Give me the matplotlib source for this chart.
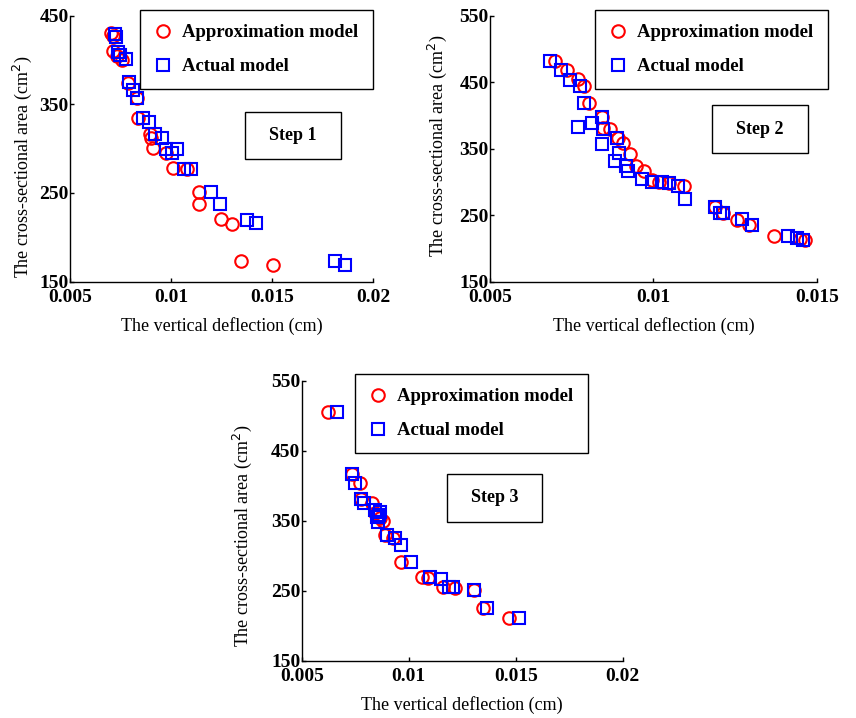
import numpy as np
import matplotlib
matplotlib.use('Agg')
import matplotlib.pyplot as plt
from matplotlib.patches import Rectangle

plt.rcParams['font.family'] = ['Liberation Serif', 'DejaVu Serif']

# Step 1
s1_approx_x = [0.00701, 0.00712, 0.00714, 0.00731, 0.00755, 0.00785, 0.00830, 0.00835, 0.00896, 0.00900,
               0.00909, 0.00975, 0.01011, 0.01077, 0.01138, 0.01140, 0.01247, 0.01303, 0.01344, 0.01506]
s1_approx_y = [430, 427, 410, 404, 400, 374, 357, 335, 317, 312,
               301, 295, 278, 277, 251, 238, 221, 215, 173, 169]
s1_actual_x = [0.00723, 0.00726, 0.00739, 0.00747, 0.00775, 0.00792, 0.00810, 0.00830, 0.00863, 0.00891,
               0.00920, 0.00957, 0.00975, 0.01003, 0.01028, 0.01065, 0.01098, 0.01200, 0.01242, 0.01374,
               0.01420, 0.01814, 0.01863]
s1_actual_y = [429, 426, 409, 406, 401, 375, 366, 357, 335, 330,
               316, 312, 300, 295, 300, 277, 277, 251, 238, 220,
               216, 173, 169]

# Step 2
s2_approx_x = [0.00699, 0.00737, 0.00769, 0.00788, 0.00804, 0.00844, 0.00847, 0.00867, 0.00893, 0.00906,
               0.00929, 0.00947, 0.00970, 0.00995, 0.01018, 0.01049, 0.01094, 0.01189, 0.01214, 0.01256,
               0.01291, 0.01370, 0.01449, 0.01464]
s2_approx_y = [482, 468, 455, 444, 418, 398, 381, 380, 366, 358,
               342, 324, 317, 303, 300, 299, 294, 263, 253, 243,
               235, 219, 214, 212]
s2_actual_x = [0.00684, 0.00717, 0.00745, 0.00776, 0.00788, 0.00768, 0.00811, 0.00842, 0.00845, 0.00842,
               0.00888, 0.00896, 0.00883, 0.00915, 0.00923, 0.00964, 0.00995, 0.01026, 0.01049, 0.01076,
               0.01097, 0.01189, 0.01202, 0.01212, 0.01270, 0.01301, 0.01410, 0.01439, 0.01457]
s2_actual_y = [482, 468, 453, 444, 418, 383, 388, 398, 379, 357,
               366, 343, 331, 324, 317, 304, 300, 300, 299, 294,
               274, 263, 254, 253, 244, 235, 218, 215, 212]

# Step 3
s3_approx_x = [0.00621, 0.00736, 0.00772, 0.00777, 0.00827, 0.00842, 0.00865, 0.00881, 0.00889, 0.00927,
               0.00962, 0.01060, 0.01088, 0.01161, 0.01215, 0.01304, 0.01347, 0.01467]
s3_approx_y = [506, 417, 404, 382, 376, 361, 354, 350, 330, 325,
               291, 270, 268, 255, 254, 251, 225, 211]
s3_actual_x = [0.00663, 0.00733, 0.00749, 0.00777, 0.00791, 0.00842, 0.00850, 0.00857, 0.00865, 0.00860,
               0.00900, 0.00935, 0.00962, 0.01010, 0.01098, 0.01153, 0.01187, 0.01207, 0.01304, 0.01366,
               0.01515]
s3_actual_y = [506, 417, 404, 382, 376, 366, 356, 349, 363, 358,
               330, 325, 316, 291, 270, 267, 255, 255, 251, 225,
               211]

panels = [
    dict(rect=[0.0818, 0.6077, 0.354, 0.3705], xlim=(0.005, 0.02), ylim=(150, 450),
         xt=[0.005, 0.01, 0.015, 0.02], xtl=['0.005', '0.01', '0.015', '0.02'],
         yt=[150, 250, 350, 450], data=(s1_approx_x, s1_approx_y, s1_actual_x, s1_actual_y),
         leg=(140, 10), step='Step 1', sbox=(245, 112, 96, 47), ylc=(-0.118, 0.43)),
    dict(rect=[0.5724, 0.6077, 0.382, 0.3705], xlim=(0.005, 0.015), ylim=(150, 550),
         xt=[0.005, 0.01, 0.015], xtl=['0.005', '0.01', '0.015'],
         yt=[150, 250, 350, 450, 550], data=(s2_approx_x, s2_approx_y, s2_actual_x, s2_actual_y),
         leg=(595, 10), step='Step 2', sbox=(712, 105, 96, 48), ylc=(-0.126, 0.51)),
    dict(rect=[0.3525, 0.0794, 0.375, 0.39], xlim=(0.005, 0.02), ylim=(150, 550),
         xt=[0.005, 0.01, 0.015, 0.02], xtl=['0.005', '0.01', '0.015', '0.02'],
         yt=[150, 250, 350, 450, 550], data=(s3_approx_x, s3_approx_y, s3_actual_x, s3_actual_y),
         leg=(355, 374), step='Step 3', sbox=(447, 474, 95, 48), ylc=(-0.148, 0.446)),
]

W, H = 856, 718
fig = plt.figure(figsize=(8.56, 7.18), dpi=100, facecolor='w')

for p in panels:
    ax = fig.add_axes(p['rect'])
    ax_x, ax_y, ac_x, ac_y = p['data']
    ax.plot(ax_x, ax_y, 'o', mfc='none', mec='r', mew=1.5, ms=9, label='Approximation model')
    ax.plot(ac_x, ac_y, 's', mfc='none', mec='b', mew=1.5, ms=8.5, label='Actual model')
    ax.set_xlim(*p['xlim'])
    ax.set_ylim(*p['ylim'])
    ax.set_xticks(p['xt'])
    ax.set_xticklabels(p['xtl'])
    ax.set_yticks(p['yt'])
    ax.spines['top'].set_visible(False)
    ax.spines['right'].set_visible(False)
    for s in ['left', 'bottom']:
        ax.spines[s].set_linewidth(1.0)
    ax.tick_params(direction='in', length=3, width=1, labelsize=14)
    ax.tick_params(axis='y', pad=1)
    ax.tick_params(axis='x', pad=5)
    for t in ax.get_xticklabels() + ax.get_yticklabels():
        t.set_fontweight('bold')
    ax.set_xlabel('The vertical deflection (cm)', fontsize=13, labelpad=8)
    ax.set_ylabel('The cross-sectional area (cm$^2$)', fontsize=13)
    ax.yaxis.set_label_coords(*p['ylc'])

    lx, ly = p['leg']
    leg = ax.legend(loc='upper left', bbox_to_anchor=(lx / W, 1 - ly / H),
                    bbox_transform=fig.transFigure, borderaxespad=0,
                    frameon=True, fancybox=False, edgecolor='k', framealpha=1,
                    prop={'weight': 'bold', 'size': 13.5}, handlelength=0.9,
                    handletextpad=0.6, borderpad=0.75, labelspacing=0.9)
    leg.get_frame().set_linewidth(1.0)

    bx, by, bw, bh = p['sbox']
    fig.patches.append(Rectangle((bx / W, 1 - (by + bh) / H), bw / W, bh / H,
                                 transform=fig.transFigure, fill=False, ec='k', lw=1.0))
    fig.text((bx + bw / 2) / W, 1 - (by + bh / 2) / H, p['step'], ha='center', va='center',
             fontsize=13, fontweight='bold')

fig.savefig('out.png', dpi=100)
